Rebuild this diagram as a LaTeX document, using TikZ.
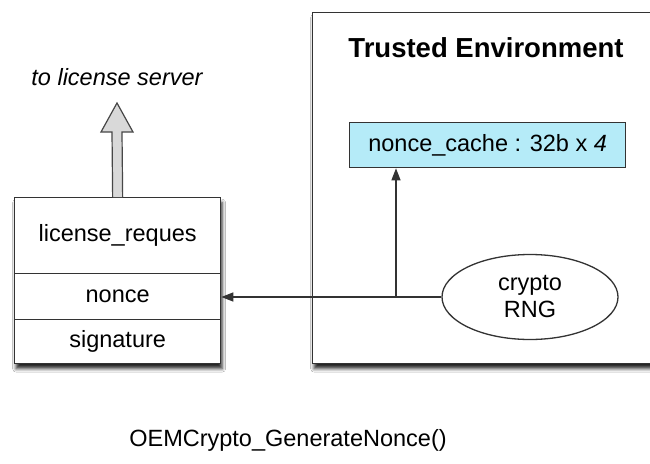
\documentclass[tikz,border=0pt]{standalone}
\usepackage{fontspec}
\setmainfont{Liberation Sans}
\usetikzlibrary{arrows.meta,shapes.geometric,shadows.blur,calc}
\definecolor{cachefill}{HTML}{B5EBF8}
\definecolor{edge}{HTML}{333333}
\begin{document}
\begin{tikzpicture}[x=1pt,y=-1pt,
  font=\fontsize{23.5}{27}\selectfont,
  shad/.style={blur shadow={shadow xshift=1.5pt, shadow yshift=-5pt, shadow blur radius=3.5pt, shadow opacity=85}},
  boxline/.style={draw=edge, line width=1.3pt},
  field/.style={boxline, fill=white, minimum width=206pt, inner sep=0pt, anchor=north west},
  conn/.style={draw=edge, line width=1.2pt, -{Triangle[length=12pt,width=9pt]}},
]
\clip (0,0) rectangle (650,463);
\fill[white] (0,0) rectangle (650,463);

% trusted environment
\node[boxline, fill=white, shad, minimum width=345pt, minimum height=351pt, anchor=north west, inner sep=0pt] (te) at (312,12) {};
\node[font=\bfseries\fontsize{27.5}{30}\selectfont] (title) at (486,48) {Trusted Environment};
\node[boxline, fill=cachefill, minimum width=276pt, minimum height=45pt, anchor=north west, inner sep=0pt] (cache) at (349,122) {nonce\_cache : 32b x \textit{4}};
\node[ellipse, boxline, fill=white, minimum width=176pt, minimum height=85pt, inner sep=0pt, align=center, font=\fontsize{23.5}{27}\selectfont] (rng) at (530,297) {crypto\\RNG};

% license request
\node[boxline, fill=white, shad, minimum width=206pt, minimum height=166pt, anchor=north west, inner sep=0pt] (frame) at (14,197) {};
\node[field, minimum height=76pt] (req) at (14,197) {license\_reques};
\node[field, minimum height=46pt] (nonce) at (14,273) {nonce};
\node[field, minimum height=44pt] (sig) at (14,319) {signature};

% hollow arrow to license server
\coordinate (tip) at (117,103);
\draw[draw=edge!90, line width=1.2pt, fill=black!15, line join=miter]
  ($(req.north)+(-5,0)$) -- ($(tip)+(-5,29)$) -- ($(tip)+(-16,29)$) -- (tip)
  -- ($(tip)+(16,29)$) -- ($(tip)+(5,29)$) -- ($(req.north)+(5,0)$);
\node[font=\itshape\fontsize{23.5}{27}\selectfont] (srv) at (117,77) {to license server};

% connectors
\draw[conn] (rng.west) -- (rng.west -| nonce.east);
\coordinate (br) at (396,297);
\draw[conn] (br) -- (br |- cache.south);

% caption
\node (cap) at (288,440) {OEMCrypto\_GenerateNonce()};
\end{tikzpicture}
\end{document}
